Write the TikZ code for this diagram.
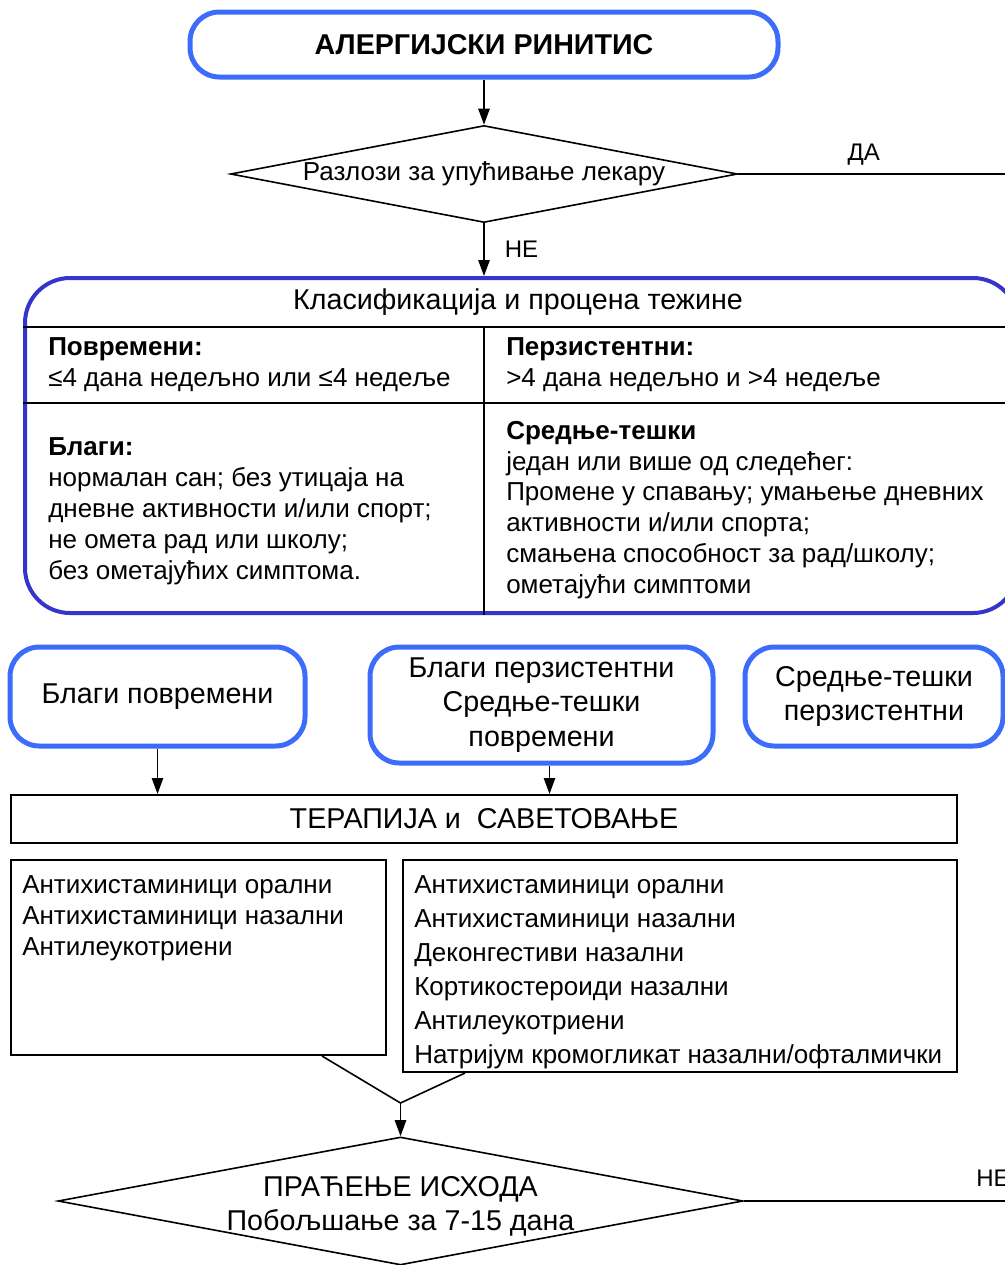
\documentclass[tikz,border=0pt]{standalone}
\usepackage{fontspec}
\setmainfont{Liberation Sans}
\usetikzlibrary{shapes.geometric,arrows.meta}
\definecolor{svetloplava}{RGB}{61,107,250}
\definecolor{tamnoplava}{RGB}{53,53,204}

\begin{document}
\begin{tikzpicture}[x=0.75pt,y=-0.75pt,
    zaobljen/.style={draw=svetloplava, line width=3.75pt, rounded corners=22pt, align=center, inner sep=0pt, font=\fontsize{21.5}{26}\selectfont},
    odluka/.style={diamond, draw, line width=1.2pt, inner sep=0pt, align=center, font=\fontsize{19.5}{25.5}\selectfont},
    kutija/.style={draw, line width=1.5pt, inner sep=0pt},
    tekst/.style={anchor=west, inner sep=0pt, align=left, font=\fontsize{19.5}{23.25}\selectfont},
    oznaka/.style={inner sep=0pt, font=\fontsize{18}{20}\selectfont},
    linija/.style={line width=1.2pt},
    pregrada/.style={line width=2pt},
    strelica/.style={-{Triangle[length=12pt,width=8.5pt]}, line width=1.2pt}]
   \clip (0,0) rectangle (1005,1265);
   \node[zaobljen, minimum width=441pt, minimum height=48.75pt, font=\bfseries\fontsize{21.5}{24}\selectfont] (naslov) at (484,44.5) {АЛЕРГИЈСКИ РИНИТИС};
   \node[odluka, shape aspect=5.2, minimum width=380.25pt, minimum height=72.75pt] (upucivanje) at (484,174) {Разлози за упућивање лекару};
   \node[draw=tamnoplava, line width=3pt, rounded corners=33.75pt, minimum width=744.75pt, minimum height=251.25pt] (klasifikacija) at (521.5,445.5) {};
   \node[tekst, anchor=center, font=\fontsize{21.5}{24}\selectfont] (klasnaslov) at (518,302) {Класификација и процена тежине};
   \coordinate (red1) at (0,327);
   \coordinate (red2) at (0,403);
   \coordinate (kolona) at (484,0);
   \draw[pregrada] (klasifikacija.west |- red1) -- (klasifikacija.east |- red1);
   \draw[pregrada] (klasifikacija.west |- red2) -- (klasifikacija.east |- red2);
   \draw[pregrada] (kolona |- red1) -- (kolona |- klasifikacija.south);
   \node[tekst] (povremeni) at (48,365) {\textbf{Повремени:}\\≤4 дана недељно или ≤4 недеље};
   \node[tekst] (perzistentni) at (506,365) {\textbf{Перзистентни:}\\>4 дана недељно и >4 недеље};
   \node[tekst] (blagi) at (48,511) {\textbf{Благи:}\\нормалан сан; без утицаја на\\дневне активности и/или спорт;\\не омета рад или школу;\\без ометајућих симптома.};
   \node[tekst, font=\fontsize{19.5}{23.1}\selectfont] (srednjeteski) at (506,510) {\textbf{Средње-тешки}\\један или више од следећег:\\Промене у спавању; умањење дневних\\активности и/или спорта;\\смањена способност за рад/школу;\\ометајући симптоми};
   \node[zaobljen, minimum width=221.25pt, minimum height=74.25pt] (blagipov) at (157.5,696.5) {Благи повремени};
   \node[zaobljen, minimum width=257.25pt, minimum height=87pt] (srednjipov) at (541.5,705) {Благи перзистентни\\Средње-тешки\\повремени};
   \node[zaobljen, minimum width=193.5pt, minimum height=74.25pt] (teskiper) at (874,696.5) {Средње-тешки\\перзистентни};
   \node[kutija, minimum width=709.5pt, minimum height=36pt, font=\fontsize{21.5}{24}\selectfont] (terapija) at (484,819) {ТЕРАПИЈА и \ САВЕТОВАЊЕ};
   \node[kutija, minimum width=281.25pt, minimum height=146.25pt] (lekovi1) at (198.5,957.5) {};
   \node[kutija, minimum width=415.5pt, minimum height=159pt] (lekovi2) at (680,966) {};
   \node[tekst] (spisak1) at (22,918) {Антихистаминици орални\\Антихистаминици назални\\Антилеукотриени};
   \node[tekst, font=\fontsize{19.5}{25.5}\selectfont] (spisak2) at (414,972) {Антихистаминици орални\\Антихистаминици назални\\Деконгестиви назални\\Кортикостероиди назални\\Антилеукотриени\\Натријум кромогликат назални/офталмички};
   \node[odluka, shape aspect=5.35, minimum width=513.75pt, minimum height=96pt] (pracenje) at (400.5,1201) {};
   \node[tekst, anchor=center, align=center, font=\fontsize{21.5}{25.5}\selectfont] (pracenjetekst) at (400.5,1206) {ПРАЋЕЊЕ ИСХОДА\\Побољшање за 7-15 дана};
   \coordinate (spoj) at (400.5,1103);
   \coordinate (desno1) at (1005,174);
   \coordinate (desno2) at (1005,1201);
   \draw[strelica] (naslov.south) -- (upucivanje.north);
   \draw[linija] (upucivanje.east) -- node[oznaka, pos=0.47, above=6pt] {ДА} (desno1);
   \draw[strelica] (upucivanje.south) -- node[oznaka, right=15pt] {НЕ} (upucivanje.south |- klasifikacija.north);
   \draw[strelica] (blagipov.south) -- (blagipov.south |- terapija.north);
   \draw[strelica] ([xshift=6pt]srednjipov.south) -- ([xshift=6pt]srednjipov.south |- terapija.north);
   \draw[linija] ([xshift=92.6pt]lekovi1.south) -- (spoj);
   \draw[linija] ([xshift=-161.25pt]lekovi2.south) -- (spoj);
   \draw[strelica] (spoj) -- (pracenje.north);
   \draw[linija] (pracenje.east) -- (desno2);
   \node[oznaka, anchor=west] (ne2) at (976,1178) {НЕ};
\end{tikzpicture}
\end{document}
